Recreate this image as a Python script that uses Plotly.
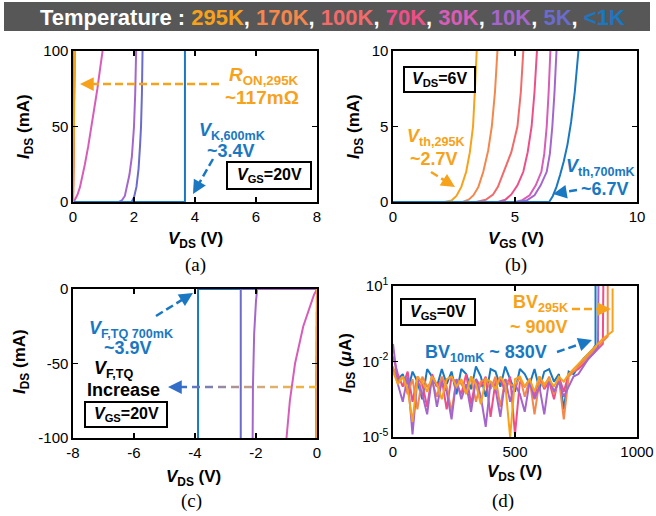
import plotly.graph_objects as go
import numpy as np

W, H = 656, 516
FONT = "Liberation Sans, Arial, Helvetica, sans-serif"
SERIF = "Liberation Serif, Times New Roman, serif"

temperatures = ["295K", "170K", "100K", "70K", "30K", "10K", "5K", "<1K"]
temp_colors = ["#F7A21B", "#F4874B", "#F26B6B", "#EE4F88", "#D85DB8", "#A566CC", "#6A6BCB", "#1A78C2"]
COL = dict(zip(temperatures, temp_colors))

# ---------------- (a) output characteristics, VGS = 20 V ----------------
a_vds = {
    "170K": [0, 0.03, 0.05],
    "100K": [0, 0.03, 0.05],
    "70K": [0, 0.03, 0.05],
    "30K": [0, 0.05, 0.1, 0.15, 0.23, 0.3, 0.39, 0.5, 0.61, 0.7, 0.8, 0.9, 0.97],
    "10K": [1.5, 1.6, 1.7, 1.76, 1.85, 1.93, 2.0, 2.04, 2.07],
    "5K": [1.92, 2.0, 2.08, 2.15, 2.2, 2.23, 2.26, 2.28],
    "<1K": [0, 3.67, 3.67],
    "295K": [0, 0.04, 0.06],
}
a_ids = {
    "170K": [0, 60, 100],
    "100K": [0, 60, 100],
    "70K": [0, 60, 100],
    "30K": [0, 1, 3, 5, 10, 16, 25, 37, 50, 62, 75, 90, 100],
    "10K": [0, 1, 4, 10, 18, 30, 50, 72, 100],
    "5K": [0, 3, 10, 22, 38, 50, 72, 100],
    "<1K": [0, 0, 100],
    "295K": [0, 60, 100],
}
a_order = ["170K", "100K", "70K", "30K", "10K", "5K", "<1K", "295K"]

# ---------------- (b) transfer characteristics, VDS = 6 V ----------------
b_vgs = {
    "295K": [0, 2.1, 2.4, 2.6, 2.8, 3.0, 3.15, 3.28, 3.36, 3.43],
    "170K": [0, 2.85, 3.1, 3.3, 3.5, 3.7, 3.9, 4.05, 4.18, 4.28],
    "100K": [0, 3.4, 3.8, 4.1, 4.3, 4.55, 4.85, 5.1, 5.24, 5.34],
    "70K": [0, 4.3, 4.6, 4.85, 5.1, 5.34, 5.52, 5.68, 5.8, 5.9],
    "30K": [0, 5.0, 5.3, 5.6, 5.85, 6.08, 6.2, 6.3, 6.38, 6.45],
    "10K": [0, 5.2, 5.5, 5.8, 6.05, 6.3, 6.43, 6.53, 6.62, 6.7],
    "<1K": [0, 6.4, 6.55, 6.7, 6.85, 7.0, 7.15, 7.3, 7.45, 7.6],
}
b_ids = {
    "295K": [0, 0, 0.1, 0.4, 1.0, 2.0, 3.3, 5.0, 7.5, 10],
    "170K": [0, 0, 0.15, 0.45, 1.0, 2.0, 3.4, 5.0, 7.3, 10],
    "100K": [0, 0, 0.15, 0.5, 1.0, 2.0, 3.3, 5.0, 7.3, 10],
    "70K": [0, 0, 0.15, 0.5, 1.1, 2.0, 3.3, 5.0, 7.3, 10],
    "30K": [0, 0, 0.12, 0.45, 1.1, 2.0, 3.2, 5.0, 7.3, 10],
    "10K": [0, 0, 0.12, 0.45, 1.1, 2.0, 3.2, 5.0, 7.3, 10],
    "<1K": [0, 0, 0.4, 1.0, 1.8, 2.7, 3.8, 5.3, 7.3, 10],
}
b_order = ["295K", "170K", "100K", "70K", "30K", "10K", "<1K"]

# ---------------- (c) reverse conduction, VGS = 20 V ----------------
c_vds = {
    "<1K": [0, -3.9, -3.9],
    "5K": [0, -2.5, -2.5],
    "10K": [0, -1.96, -2.0, -2.06, -2.1, -2.11],
    "30K": [0, -0.1, -0.2, -0.45, -0.72, -0.89, -1.0],
    "170K": [0, -0.02],
    "100K": [0, -0.02],
    "70K": [0, -0.02],
    "295K": [0, -0.02],
}
c_ids = {
    "<1K": [0, 0, -100],
    "5K": [0, 0, -100],
    "10K": [0, 0, -8, -30, -65, -100],
    "30K": [0, -4, -10, -25, -50, -75, -100],
    "170K": [0, -100],
    "100K": [0, -100],
    "70K": [0, -100],
    "295K": [0, -100],
}
c_order = ["<1K", "5K", "10K", "30K", "170K", "100K", "70K", "295K"]

# ---------------- (d) off-state leakage, VGS = 0 V (log10 of I in uA) ----------------
d_vds = {
    "<1K": list(range(0, 821, 20)) + [830, 830],
    "70K": list(range(0, 861, 20)) + [862],
    "170K": list(range(0, 881, 20)) + [880],
    "10K": list(range(0, 841, 20)) + [842],
    "295K": list(range(0, 901, 20)) + [900],
}
d_log_ids = {
    "<1K": [-2.3, -2.7, -2.5, -3.2, -2.4, -2.8, -3.5, -2.3, -2.6, -3.0, -2.3, -2.9, -2.4, -3.3,
            -2.3, -2.5, -3.1, -2.2, -2.6, -3.4, -2.3, -2.4, -3.0, -2.2, -2.7, -3.2, -2.3, -2.5,
            -2.9, -2.3, -3.1, -2.4, -2.3, -2.8, -2.5, -3.9, -2.4, -2.5, -2.2, -1.9, -1.7, -1.5,
            -1.35, 1.0],
    "70K": [-1.8, -2.5, -3.0, -2.4, -3.6, -2.6, -2.9, -3.8, -2.5, -3.0, -2.7, -3.9, -2.6, -2.9,
            -3.3, -2.5, -3.7, -2.7, -3.0, -2.6, -4.2, -2.8, -2.7, -3.2, -2.6, -4.9, -2.8, -3.0,
            -2.7, -3.4, -2.6, -3.1, -2.8, -3.5, -2.6, -3.2, -2.5, -2.4, -2.3, -2.1, -1.9, -1.7,
            -1.5, -1.3, 1.0],
    "170K": [-2.2, -2.8, -2.6, -3.3, -2.7, -3.9, -2.6, -3.0, -2.8, -3.4, -2.6, -3.0, -4.0, -2.7,
             -2.9, -3.2, -2.6, -3.6, -2.8, -2.7, -3.1, -2.6, -3.8, -2.7, -2.9, -3.0, -2.6, -3.4,
             -2.7, -4.1, -2.8, -3.0, -2.6, -3.3, -2.7, -4.3, -2.6, -2.4, -2.2, -2.0, -1.8, -1.6,
             -1.4, -1.2, -1.0, 1.0],
    "10K": [-1.3, -2.9, -3.6, -2.6, -4.9, -2.7, -3.3, -4.1, -2.6, -3.8, -2.8, -3.2, -4.3, -2.7,
            -3.5, -2.9, -4.0, -2.7, -3.4, -4.6, -2.8, -3.1, -4.2, -2.7, -3.6, -2.9, -3.3, -4.0,
            -2.8, -3.5, -3.0, -4.1, -2.7, -3.2, -2.8, -3.4, -3.0, -2.6, -2.5, -2.2, -1.9, -1.7,
            -1.45, 1.0],
    "295K": [-2.4, -2.9, -2.6, -3.1, -4.4, -2.6, -2.8, -3.2, -2.6, -2.9, -3.5, -2.7, -2.6, -3.0,
             -2.7, -3.3, -2.6, -2.9, -3.7, -2.7, -2.8, -3.1, -2.6, -2.9, -5.0, -2.7, -2.6, -3.0,
             -2.7, -3.2, -2.6, -2.9, -2.7, -3.0, -2.6, -2.8, -2.5, -2.3, -2.1, -1.9, -1.7, -1.5,
             -1.3, -1.1, -0.95, -0.8, 0.9],
}
d_order = ["<1K", "70K", "170K", "10K", "295K"]

# ---------------- figure ----------------
fig = go.Figure()

def add_curves(vx, vy, order, xa, ya, logy=False):
    for t in order:
        yv = np.power(10.0, vy[t]) if logy else vy[t]
        fig.add_trace(go.Scatter(x=vx[t], y=yv, mode="lines", xaxis=xa, yaxis=ya,
                                 line=dict(color=COL[t], width=2), showlegend=False,
                                 hoverinfo="skip"))

add_curves(a_vds, a_ids, a_order, "x", "y")
add_curves(b_vgs, b_ids, b_order, "x2", "y2")
add_curves(c_vds, c_ids, c_order, "x3", "y3")
add_curves(d_vds, d_log_ids, d_order, "x4", "y4", logy=True)


def xd(l, r):
    return [l / W, r / W]


def yd(t, b):
    return [1 - b / H, 1 - t / H]


def axis(**kw):
    base = dict(showline=True, linecolor="black", linewidth=1.6, mirror="ticks",
                ticks="inside", ticklen=5, tickwidth=1.5, tickcolor="black",
                showgrid=False, zeroline=False, automargin=False,
                tickfont=dict(family=FONT, size=15, color="black"))
    base.update(kw)
    return base

A = (73, 317, 51, 202)
B = (393, 637, 51, 202)
C = (73, 317, 289, 438)
D = (393, 637, 286, 437)

fig.update_layout(
    width=W, height=H, autosize=False, margin=dict(l=0, r=0, t=0, b=0, pad=0),
    paper_bgcolor="white", plot_bgcolor="white", showlegend=False,
    font=dict(family=FONT, color="black"),
    xaxis=axis(domain=xd(A[0], A[1]), anchor="y", range=[0, 8],
               tickvals=[0, 2, 4, 6, 8], ticktext=["0", "2", "4", "6", "8"]),
    yaxis=axis(domain=yd(A[2], A[3]), anchor="x", range=[0, 100],
               tickvals=[0, 50, 100], ticktext=["0", "50", "100"]),
    xaxis2=axis(domain=xd(B[0], B[1]), anchor="y2", range=[0, 10],
                tickvals=[0, 5, 10], ticktext=["0", "5", "10"]),
    yaxis2=axis(domain=yd(B[2], B[3]), anchor="x2", range=[0, 10],
                tickvals=[0, 5, 10], ticktext=["0", "5", "10"]),
    xaxis3=axis(domain=xd(C[0], C[1]), anchor="y3", range=[-8, 0],
                tickvals=[-8, -6, -4, -2, 0], ticktext=["-8", "-6", "-4", "-2", "0"]),
    yaxis3=axis(domain=yd(C[2], C[3]), anchor="x3", range=[-100, 0],
                tickvals=[-100, -50, 0], ticktext=["-100", "-50", "0"]),
    xaxis4=axis(domain=xd(D[0], D[1]), anchor="y4", range=[0, 1000],
                tickvals=[0, 500, 1000], ticktext=["0", "500", "1000"]),
    yaxis4=axis(domain=yd(D[2], D[3]), anchor="x4", type="log", range=[-5, 1],
                tickvals=[1e-5, 1e-2, 1e1],
                ticktext=["10<sup>-5</sup>", "10<sup>-2</sup>", "10<sup>1</sup>"]),
)

shapes = []
annos = []


def P(px, py):
    return px / W, 1 - py / H


def text(px, py, s, size=17, color="black", family=FONT, angle=0, **kw):
    x, y = P(px, py)
    annos.append(dict(x=x, y=y, xref="paper", yref="paper", text=s, showarrow=False,
                      font=dict(family=family, size=size, color=color), textangle=angle,
                      xanchor="center", yanchor="middle", **kw))


def box(x0, y0, x1, y1, s, size=16):
    a0 = P(x0, y1)
    a1 = P(x1, y0)
    shapes.append(dict(type="rect", xref="paper", yref="paper", x0=a0[0], y0=a0[1],
                       x1=a1[0], y1=a1[1], line=dict(color="black", width=2),
                       fillcolor="white", layer="above"))
    text((x0 + x1) / 2, (y0 + y1) / 2, s, size=size)


def arrow(x0, y0, x1, y1, color, width=2.5, dash="8px,4px", head=9):
    dx, dy = x1 - x0, y1 - y0
    L = (dx * dx + dy * dy) ** 0.5
    ux, uy = dx / L, dy / L
    s0 = P(x0, y0)
    s1 = P(x1 - ux * (head - 2), y1 - uy * (head - 2))
    shapes.append(dict(type="line", xref="paper", yref="paper", x0=s0[0], y0=s0[1],
                       x1=s1[0], y1=s1[1], line=dict(color=color, width=width, dash=dash)))
    t = P(x1, y1)
    annos.append(dict(x=t[0], y=t[1], xref="paper", yref="paper", text="", showarrow=True,
                      ax=-ux * head, ay=-uy * head, arrowhead=2, arrowsize=1.1,
                      arrowwidth=width, arrowcolor=color, standoff=0))

# banner
b0 = P(4, 31)
b1 = P(650, 2)
shapes.append(dict(type="rect", xref="paper", yref="paper", x0=b0[0], y0=b0[1], x1=b1[0],
                   y1=b1[1], line=dict(width=0), fillcolor="#575757", layer="below"))
parts = []
for t, c in zip(temperatures, temp_colors):
    parts.append('<span style="color:%s">%s</span>' % (c, t.replace("<", "&lt;")))
banner = "<b>Temperature : " + ", ".join(parts) + "</b>"
text(332, 17, banner, size=22, color="white")

OR = COL["295K"]
BL = COL["<1K"]

# axis titles
text(25, 127, "<b><i>I</i><sub>DS</sub> (mA)</b>", size=17, angle=-90)
text(355, 127, "<b><i>I</i><sub>DS</sub> (mA)</b>", size=17, angle=-90)
text(21, 362, "<b><i>I</i><sub>DS</sub> (mA)</b>", size=17, angle=-90)
text(347, 363, "<b><i>I</i><sub>DS</sub> (<i>μ</i>A)</b>", size=17, angle=-90)
text(195, 240, "<b><i>V</i><sub>DS</sub> (V)</b>", size=17)
text(516, 240, "<b><i>V</i><sub>GS</sub> (V)</b>", size=17)
text(193, 478, "<b><i>V</i><sub>DS</sub> (V)</b>", size=17)
text(514, 473, "<b><i>V</i><sub>DS</sub> (V)</b>", size=17)

# panel labels
text(195, 265, "(a)", size=19, family=SERIF)
text(516, 265, "(b)", size=19, family=SERIF)
text(191, 501, "(c)", size=19, family=SERIF)
text(503, 501, "(d)", size=19, family=SERIF)

# (a) annotations
arrow(219, 84, 80, 84, OR)
text(264, 76, "<b><i>R</i><sub>ON,295K</sub></b>", size=19, color=OR)
text(262, 97, "<b>~117mΩ</b>", size=19, color=OR)
text(232, 131, "<b><i>V</i><sub>K,600mK</sub></b>", size=18, color=BL)
text(231, 151, "<b>~3.4V</b>", size=18, color=BL)
arrow(213, 159, 193, 194, BL)
box(227, 162, 311, 189, "<b><i>V</i><sub>GS</sub>=20V</b>")

# (b) annotations
box(404, 67, 475, 92, "<b><i>V</i><sub>DS</sub>=6V</b>")
text(436, 137, "<b><i>V</i><sub>th,295K</sub></b>", size=18, color=OR)
text(434, 159, "<b>~2.7V</b>", size=18, color=OR)
arrow(431, 172, 455, 187, OR)
text(600, 167, "<b><i>V</i><sub>th,700mK</sub></b>", size=18, color=BL)
text(605, 189, "<b>~6.7V</b>", size=18, color=BL)
arrow(577, 190, 553, 194, BL)

# (c) annotations
arrow(156, 316, 193, 293, BL)
text(131, 329, "<b><i>V</i><sub>F,TQ 700mK</sub></b>", size=18, color=BL)
text(128, 348, "<b>~3.9V</b>", size=18, color=BL)
text(114, 369, "<b><i>V</i><sub>F,TQ</sub></b>", size=18)
text(123, 390, "<b>Increase</b>", size=18)
box(85, 402, 167, 427, "<b><i>V</i><sub>GS</sub>=20V</b>")

# gradient dashed arrow
stops = [(0.0, (247, 181, 42)), (0.35, (218, 176, 120)), (0.6, (170, 145, 150)),
         (0.85, (100, 120, 190)), (1.0, (40, 110, 200))]


def grad(t):
    for (t0, c0), (t1, c1) in zip(stops[:-1], stops[1:]):
        if t <= t1:
            f = (t - t0) / (t1 - t0)
            return "rgb(%d,%d,%d)" % tuple(round(c0[i] + f * (c1[i] - c0[i])) for i in range(3))
    return "rgb(40,110,200)"

gx_right, gx_left, gy = 317, 176, 387
xpos = gx_right
while xpos > gx_left:
    xe = max(xpos - 8, gx_left)
    tmid = (gx_right - (xpos + xe) / 2) / (gx_right - gx_left)
    p0 = P(xpos, gy)
    p1 = P(xe, gy)
    shapes.append(dict(type="line", xref="paper", yref="paper", x0=p0[0], y0=p0[1],
                       x1=p1[0], y1=p1[1], line=dict(color=grad(tmid), width=2.5)))
    xpos -= 13
tip = P(168, gy)
annos.append(dict(x=tip[0], y=tip[1], xref="paper", yref="paper", text="", showarrow=True,
                  ax=9, ay=0, arrowhead=2, arrowsize=1.1, arrowwidth=2.5,
                  arrowcolor="rgb(50,110,200)", standoff=0))

# (d) annotations
box(401, 299, 475, 325, "<b><i>V</i><sub>GS</sub>=0V</b>")
text(540, 303, "<b>BV<sub>295K</sub></b>", size=18, color=OR)
text(539, 327, "<b>~ 900V</b>", size=18, color=OR)
arrow(572, 309, 611, 309, OR)
text(486, 353, "<b>BV<sub>10mK</sub> ~ 830V</b>", size=18, color=BL)
arrow(557, 352, 592, 340, BL)

fig.update_layout(shapes=shapes, annotations=annos)
fig.write_html("out.html", config={"displayModeBar": False, "staticPlot": True},
               post_script="document.body.style.margin='0';document.body.style.overflow='hidden';")
